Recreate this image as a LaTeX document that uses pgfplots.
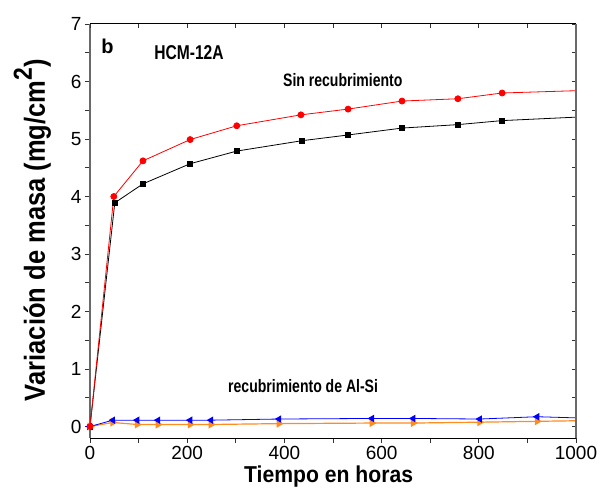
\documentclass[border=0pt]{standalone}
\usepackage{pgfplots}
\pgfplotsset{compat=1.18}
\usepackage{fontspec}
\setmainfont{Liberation Sans}
\newfontfamily\condfont[FakeStretch=0.78]{Liberation Sans}
\newfontfamily\ylabfont[FakeStretch=0.88]{Liberation Sans}
\newfontfamily\xlabfont[FakeStretch=0.92]{Liberation Sans}
\definecolor{orangeC}{RGB}{255,140,30}
\definecolor{spinegray}{RGB}{105,105,105}
\begin{document}
\begin{tikzpicture}
\useasboundingbox (-90pt,-52pt) rectangle (510pt,438pt);
\begin{axis}[
  scale only axis, width=486pt, height=414pt,
  xmin=0, xmax=1000, ymin=-0.2, ymax=7,
  axis x line*=bottom, axis y line*=left,
  x axis line style={black, line width=1pt, -},
  y axis line style={spinegray, line width=1.2pt, -},
  tick align=outside,
  xtick={0,200,...,1000}, minor xtick={100,300,...,900},
  ytick={0,1,...,7}, minor ytick={0.5,1.5,...,6.5},
  major tick length=5pt, minor tick length=5pt,
  tick style={black!80, line width=0.8pt},
  /pgf/number format/assume math mode=true,
  /pgf/number format/1000 sep={},
  ticklabel style={font=\fontsize{19}{19}\selectfont},
  clip=false,
  xlabel={\bfseries Tiempo en horas},
  xlabel style={font=\xlabfont\fontsize{23}{23}\selectfont, at={(axis description cs:0.491,-0.1063)}, anchor=base},
  ylabel={\bfseries Variación de masa (mg/cm\raisebox{13pt}{\fontsize{26}{26}\selectfont 2})},
  ylabel style={font=\ylabfont\fontsize{29}{29}\selectfont, at={(axis description cs:-0.0926,0.502)}, anchor=base, rotate=0},
]
\addplot[black, line width=0.8pt, mark=square*, mark size=2.6pt] coordinates {
(0,0) (51,3.89) (109,4.22) (206,4.57) (302,4.79) (436,4.97) (531,5.07) (642,5.19) (757,5.25) (848,5.32)};
\addplot[black, line width=0.8pt] coordinates {(848,5.32) (1000,5.38)};
\addplot[red, line width=0.8pt, mark=*, mark size=3pt] coordinates {
(0,0) (49,4.00) (109,4.62) (206,4.99) (302,5.23) (434,5.42) (531,5.52) (642,5.66) (757,5.70) (848,5.80)};
\addplot[red, line width=0.8pt] coordinates {(848,5.80) (1000,5.84)};
\addplot[orangeC, line width=1.2pt, mark=triangle*, mark size=3.5pt, mark options={rotate=-90}] coordinates {
(0,0) (47,0.07) (97,0.035) (140,0.035) (206,0.035) (249,0.035) (389,0.05) (580,0.06) (665,0.06) (802,0.075) (920,0.09)};
\addplot[orangeC, line width=1.2pt] coordinates {(920,0.09) (1000,0.10)};
\addplot[blue, line width=0.8pt, mark=triangle*, mark size=3.5pt, mark options={rotate=90}] coordinates {
(0,0) (47,0.11) (97,0.11) (140,0.11) (206,0.11) (249,0.11) (389,0.13) (580,0.14) (665,0.14) (802,0.13) (920,0.17)};
\addplot[blue, line width=0.8pt] coordinates {(920,0.17) (1000,0.15)};
\addplot[red, only marks, mark=*, mark size=3pt] coordinates {(0,0)};
\node[anchor=base west, inner sep=0pt, font=\fontsize{20}{20}\selectfont\bfseries] at (axis cs:23,6.48) {b};
\node[anchor=base west, inner sep=0pt, font=\condfont\fontsize{20}{20}\selectfont\bfseries] at (axis cs:132,6.39) {HCM-12A};
\node[anchor=base west, inner sep=0pt, font=\condfont\fontsize{18}{18}\selectfont\bfseries] at (axis cs:397,5.91) {Sin recubrimiento};
\node[anchor=base west, inner sep=0pt, font=\condfont\fontsize{18}{18}\selectfont\bfseries] at (axis cs:284,0.59) {recubrimiento de Al-Si};
\end{axis}
\begin{axis}[
  scale only axis, width=486pt, height=414pt,
  xmin=0, xmax=1000, ymin=-0.2, ymax=7,
  axis x line*=top, axis y line*=right,
  x axis line style={black, line width=1pt, -},
  y axis line style={spinegray, line width=1.2pt, -},
  tick align=inside,
  xtick={0,100,...,1000}, ytick={0,0.5,...,7},
  xticklabels={}, yticklabels={},
  major tick length=4pt,
  tick style={black!80, line width=0.8pt},
]
\end{axis}
\end{tikzpicture}
\end{document}
